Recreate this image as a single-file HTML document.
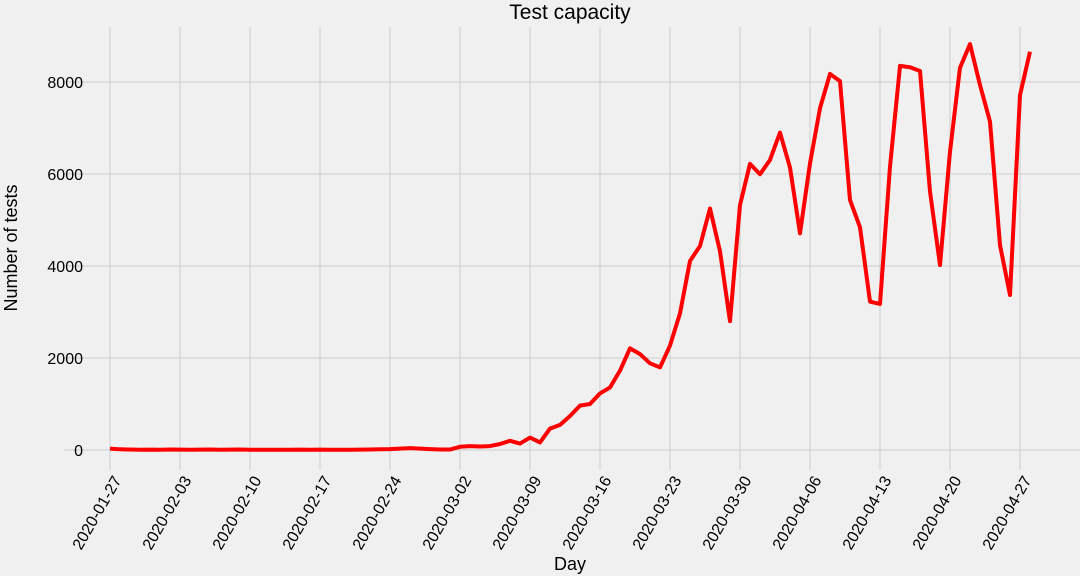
<!DOCTYPE html>
<html><head><meta charset="utf-8"><style>
body{margin:0;background:#f0f0f0;}
svg{display:block;font-family:"Liberation Sans","DejaVu Sans",sans-serif;}
</style></head><body>
<svg id="chart" width="1080" height="576" viewBox="0 0 1080 576">
<rect x="0" y="0" width="1080" height="576" fill="#f0f0f0"/>
<g id="grid"></g>
<g id="yticks"></g>
<g id="xticks"></g>
<path id="line" fill="none" stroke="#ff0000" stroke-width="4" stroke-linejoin="round"/>
<text x="570" y="19" text-anchor="middle" font-size="21" fill="#000">Test capacity</text>
<text x="570" y="570" text-anchor="middle" font-size="18" fill="#000">Day</text>
<text transform="translate(17,248) rotate(-90)" text-anchor="middle" font-size="18" fill="#000">Number of tests</text>
</svg>
<script>
const startDate = "2020-01-27";
const values = [30,15,10,5,8,5,10,8,5,8,10,5,8,10,5,5,5,5,5,8,5,8,5,5,5,8,10,15,20,30,40,30,20,10,
10,70,85,75,85,130,200,140,270,165,465,545,740,965,1000,1230,1360,1725,2210,2085,1885,1795,2270,2970,4110,4435,5250,4320,2800,
5325,6220,5995,6305,6900,6140,4710,6230,7430,8175,8020,5435,4840,3225,3175,6160,8350,8320,8240,5620,4020,6485,8310,8825,7935,7140,4455,3370,7715,8660];
const yTicks = [0,2000,4000,6000,8000];
const xTickLabels = ["2020-01-27","2020-02-03","2020-02-10","2020-02-17","2020-02-24","2020-03-02","2020-03-09","2020-03-16","2020-03-23","2020-03-30","2020-04-06","2020-04-13","2020-04-20","2020-04-27"];
const NS="http://www.w3.org/2000/svg";
const t0=Date.parse(startDate+"T00:00:00Z");
function dayIndex(s){return Math.round((Date.parse(s+"T00:00:00Z")-t0)/86400000);}
function xs(i){return 110+i*10;}
function ys(v){return 450-v*0.046;}
const grid=document.getElementById('grid'),yt=document.getElementById('yticks'),xt=document.getElementById('xticks');
function mk(tag,attrs,parent){const e=document.createElementNS(NS,tag);for(const k in attrs)e.setAttribute(k,attrs[k]);parent.appendChild(e);return e;}
yTicks.forEach(v=>{
  const l=mk('line',{x1:64,x2:1080,y1:ys(v),y2:ys(v),stroke:'#cbcbcb','stroke-width':1},grid);
  
  
  const t=mk('text',{x:83,y:ys(v)+6,'text-anchor':'end','font-size':16,fill:'#000'},yt);
  
  
  t.textContent=v;
});
xTickLabels.forEach(s=>{
  const x=xs(dayIndex(s));
  const l=mk('line',{x1:x,x2:x,y1:27,y2:470,stroke:'#cbcbcb','stroke-width':1},grid);
  
  
  const t=mk('text',{transform:'translate('+(x+12)+',480) rotate(-60)','text-anchor':'end','font-size':16,fill:'#000'},xt);
  
  
  t.textContent=s;
});
document.getElementById('line').setAttribute('d',values.map((v,i)=>(i?'L':'M')+xs(i)+','+ys(v)).join(''));
</script>
</body></html>
